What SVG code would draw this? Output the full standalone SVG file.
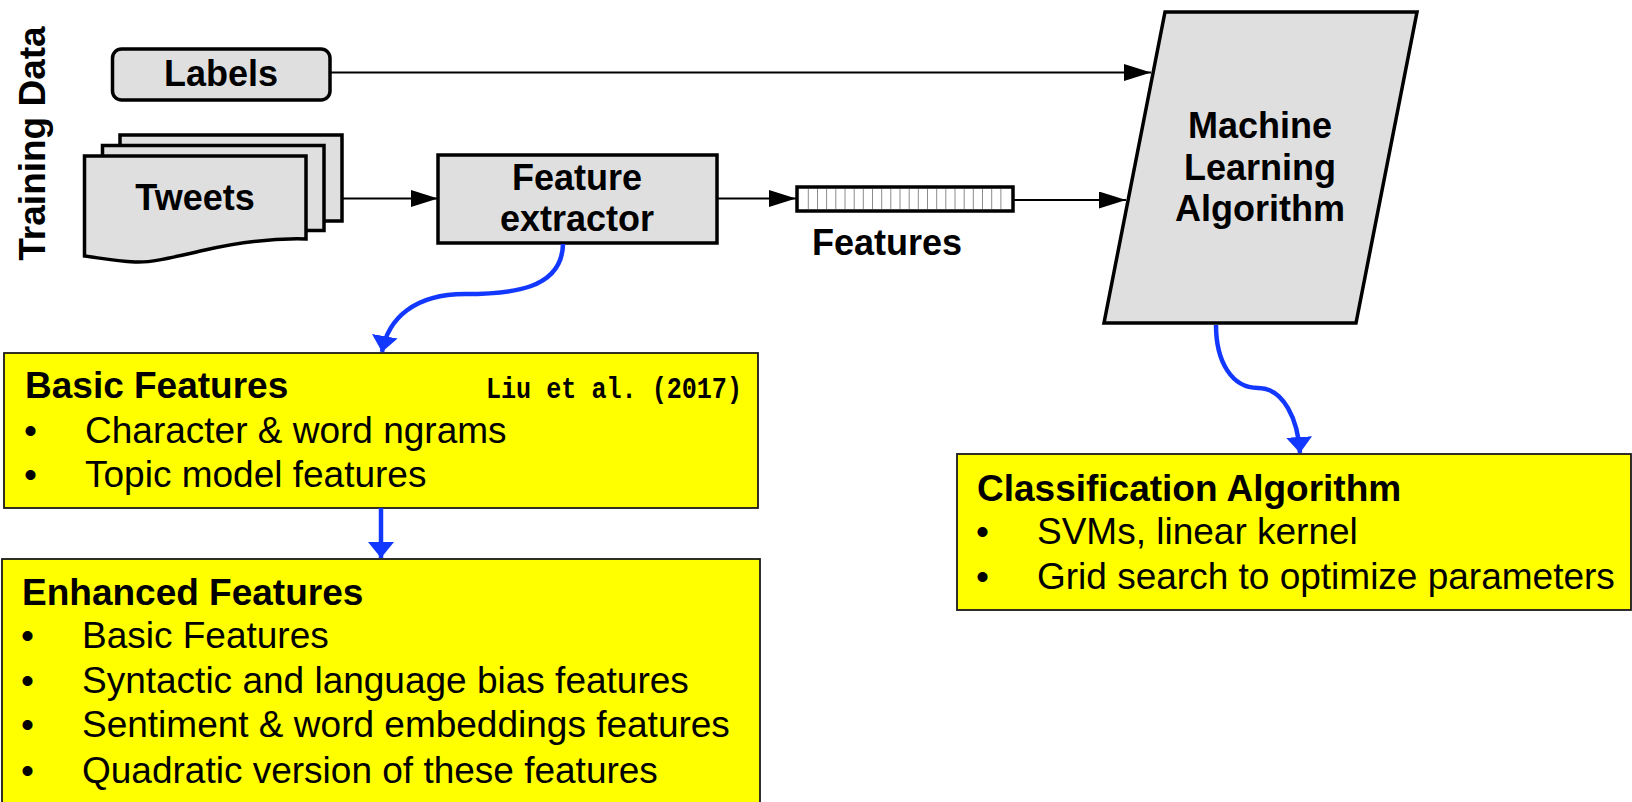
<svg xmlns="http://www.w3.org/2000/svg" width="1632" height="802" viewBox="0 0 1632 802">
<style>
.gray{fill:#dfdfdf;stroke:#000;stroke-width:3.5;stroke-linejoin:miter}
.yel{fill:#ffff00;stroke:#1a1a1a;stroke-width:1.8}
.lbl{font-family:"Liberation Sans",Arial,sans-serif;font-weight:bold;font-size:36px;fill:#000;text-anchor:middle}
.ttl{font-family:"Liberation Sans",Arial,sans-serif;font-weight:bold;font-size:37px;fill:#000}
.itm{font-family:"Liberation Sans",Arial,sans-serif;font-size:37px;fill:#000}
.ref{font-family:"Liberation Mono","Courier New",monospace;font-weight:bold;font-size:30px;fill:#000}
.blk{fill:none;stroke:#000;stroke-width:2}
.blu{fill:none;stroke:#1238ff;stroke-width:4.5}
.cell{stroke:#8c8c8c;stroke-width:1}
</style>
<defs>
<marker id="ah" markerUnits="userSpaceOnUse" markerWidth="28" markerHeight="18" refX="27" refY="8.5" orient="auto">
<path d="M0,0 L27,8.5 L0,17 z" fill="#000"/>
</marker>
<marker id="bh" markerUnits="userSpaceOnUse" markerWidth="18" markerHeight="28" refX="16" refY="13" orient="auto">
<path d="M0,0 L16,13 L0,26 z" fill="#1238ff"/>
</marker>
</defs>

<text class="lbl" style="font-size:37px" transform="translate(45,143.5) rotate(-90)" x="0" y="0">Training Data</text>

<g id="labels">
<rect class="gray" x="112.5" y="49" width="217.5" height="51" rx="9"/>
<text class="lbl" x="221" y="86">Labels</text>
</g>

<g id="tweets">
<rect class="gray" x="120" y="135" width="222" height="86"/>
<rect class="gray" x="102.5" y="145.5" width="221.5" height="85"/>
<path class="gray" d="M84.5,156 L306,156 L306,239 C270,238 240,242 205,250 C170,258 150,263 135,262 C115,261 100,258 84.5,256 Z"/>
<text class="lbl" x="195" y="210">Tweets</text>
</g>

<g id="feature-extractor">
<rect class="gray" x="438" y="155" width="279" height="88"/>
<text class="lbl" x="577" y="190">Feature</text>
<text class="lbl" x="577" y="231">extractor</text>
</g>

<g id="features-vector">
<rect x="797" y="187" width="216" height="24" fill="#fff" stroke="#000" stroke-width="3.5"/>
<g class="cell">
<line x1="808.3" y1="189" x2="808.3" y2="209"/><line x1="817.5" y1="189" x2="817.5" y2="209"/><line x1="826.6" y1="189" x2="826.6" y2="209"/><line x1="835.8" y1="189" x2="835.8" y2="209"/><line x1="845" y1="189" x2="845" y2="209"/><line x1="854.2" y1="189" x2="854.2" y2="209"/><line x1="863.3" y1="189" x2="863.3" y2="209"/><line x1="872.5" y1="189" x2="872.5" y2="209"/><line x1="881.7" y1="189" x2="881.7" y2="209"/><line x1="890.8" y1="189" x2="890.8" y2="209"/><line x1="900" y1="189" x2="900" y2="209"/><line x1="909.2" y1="189" x2="909.2" y2="209"/><line x1="918.3" y1="189" x2="918.3" y2="209"/><line x1="927.5" y1="189" x2="927.5" y2="209"/><line x1="936.7" y1="189" x2="936.7" y2="209"/><line x1="945.8" y1="189" x2="945.8" y2="209"/><line x1="955" y1="189" x2="955" y2="209"/><line x1="964.2" y1="189" x2="964.2" y2="209"/><line x1="973.3" y1="189" x2="973.3" y2="209"/><line x1="982.5" y1="189" x2="982.5" y2="209"/><line x1="991.7" y1="189" x2="991.7" y2="209"/><line x1="1000.9" y1="189" x2="1000.9" y2="209"/>
</g>
<text class="lbl" x="887" y="255">Features</text>
</g>

<g id="ml-algorithm">
<path class="gray" d="M1165,12 L1417,12 L1356,323 L1104,323 Z"/>
<text class="lbl" x="1260" y="138">Machine</text>
<text class="lbl" x="1260" y="180">Learning</text>
<text class="lbl" x="1260" y="221">Algorithm</text>
</g>

<g id="basic-features">
<rect class="yel" x="4" y="353" width="754" height="155"/>
<text class="ttl" x="25" y="398">Basic Features</text>
<text class="ref" x="486" y="398" textLength="256" lengthAdjust="spacingAndGlyphs">Liu et al. (2017)</text>
<text class="itm" x="24" y="443">•</text><text class="itm" x="85" y="443">Character &amp; word ngrams</text>
<text class="itm" x="24" y="487">•</text><text class="itm" x="85" y="487">Topic model features</text>
</g>

<g id="enhanced-features">
<rect class="yel" x="2" y="559" width="758" height="260"/>
<text class="ttl" x="22" y="605">Enhanced Features</text>
<text class="itm" x="21" y="648">•</text><text class="itm" x="82" y="648">Basic Features</text>
<text class="itm" x="21" y="693">•</text><text class="itm" x="82" y="693">Syntactic and language bias features</text>
<text class="itm" x="21" y="737">•</text><text class="itm" x="82" y="737">Sentiment &amp; word embeddings features</text>
<text class="itm" x="21" y="783">•</text><text class="itm" x="82" y="783">Quadratic version of these features</text>
</g>

<g id="classification">
<rect class="yel" x="957" y="454" width="674" height="156"/>
<text class="ttl" x="977" y="501">Classification Algorithm</text>
<text class="itm" x="976" y="544">•</text><text class="itm" x="1037" y="544">SVMs, linear kernel</text>
<text class="itm" x="976" y="589">•</text><text class="itm" x="1037" y="589">Grid search to optimize parameters</text>
</g>

<g id="connectors">
<line class="blk" x1="330" y1="72.5" x2="1151" y2="72.5" marker-end="url(#ah)"/>
<line class="blk" x1="342" y1="198.5" x2="438" y2="198.5" marker-end="url(#ah)"/>
<line class="blk" x1="717" y1="198.5" x2="796" y2="198.5" marker-end="url(#ah)"/>
<line class="blk" x1="1013" y1="200" x2="1126" y2="200" marker-end="url(#ah)"/>
<path class="blu" d="M563,244 C562,290 510,294 465,294 C415,294 388,318 382,352" marker-end="url(#bh)"/>
<path class="blu" d="M381,508 L381,558" marker-end="url(#bh)"/>
<path class="blu" d="M1216,325 C1216,362 1232,388 1258,388 C1284,388 1298,420 1300,453" marker-end="url(#bh)"/>
</g>
</svg>
